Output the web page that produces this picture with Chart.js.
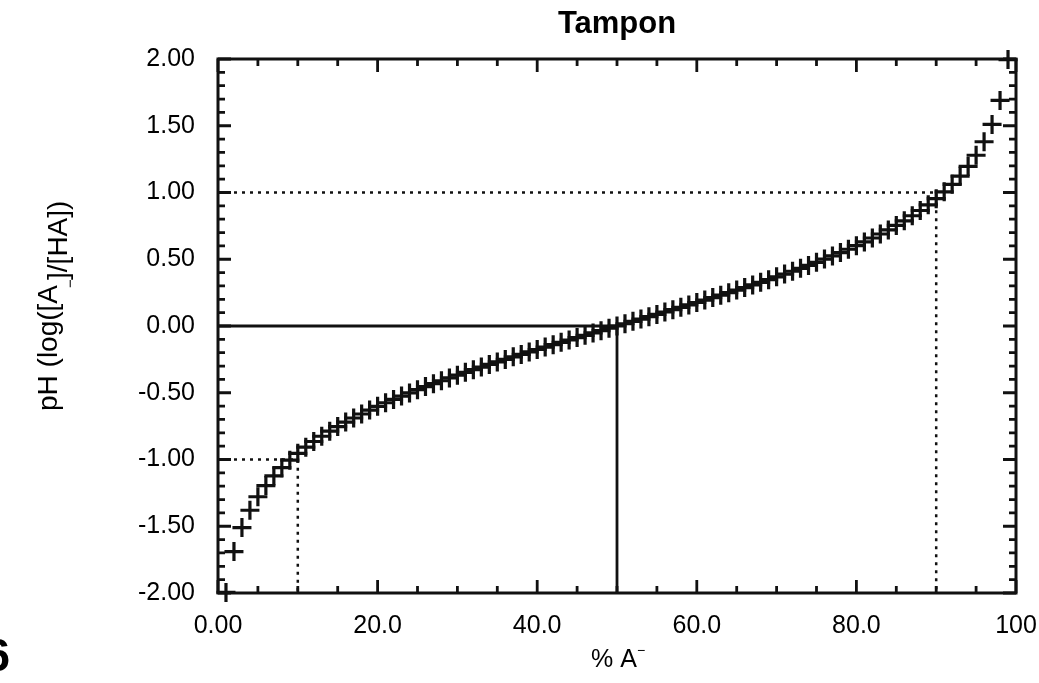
<!DOCTYPE html>
<html>
<head>
<meta charset="utf-8">
<script src="https://cdn.jsdelivr.net/npm/chart.js@4.4.1/dist/chart.umd.min.js"></script>
<style>
  html, body { margin: 0; padding: 0; background: #fff; }
  #wrap { width: 1039px; height: 683px; position: relative; }
</style>
</head>
<body>
<div id="wrap"><canvas id="main-chart"></canvas></div>
<script>
// % A- (x) and pH - pKa = log([A-]/[HA]) (y)
const PCT = [1,2,3,4,5,6,7,8,9,10,11,12,13,14,15,16,17,18,19,20,21,22,23,24,25,26,27,28,29,30,
  31,32,33,34,35,36,37,38,39,40,41,42,43,44,45,46,47,48,49,50,51,52,53,54,55,56,57,58,59,60,
  61,62,63,64,65,66,67,68,69,70,71,72,73,74,75,76,77,78,79,80,81,82,83,84,85,86,87,88,89,90,
  91,92,93,94,95,96,97,98,99];
const PH = [-1.996,-1.690,-1.510,-1.380,-1.279,-1.195,-1.123,-1.061,-1.005,-0.954,
  -0.908,-0.865,-0.826,-0.788,-0.753,-0.720,-0.689,-0.659,-0.630,-0.602,
  -0.575,-0.550,-0.525,-0.501,-0.477,-0.454,-0.432,-0.410,-0.389,-0.368,
  -0.347,-0.327,-0.308,-0.288,-0.269,-0.250,-0.231,-0.213,-0.194,-0.176,
  -0.158,-0.140,-0.122,-0.105,-0.087,-0.070,-0.052,-0.035,-0.017,0.000,
  0.017,0.035,0.052,0.070,0.087,0.105,0.122,0.140,0.158,0.176,
  0.194,0.213,0.231,0.250,0.269,0.288,0.308,0.327,0.347,0.368,
  0.389,0.410,0.432,0.454,0.477,0.501,0.525,0.550,0.575,0.602,
  0.630,0.659,0.689,0.720,0.753,0.788,0.826,0.865,0.908,0.954,
  1.005,1.061,1.123,1.195,1.279,1.380,1.510,1.690,1.996];

// guide lines
const MID_X = [0, 50, 50],   MID_Y = [0, 0, -2];
const HI_X  = [0, 90, 90],   HI_Y  = [1, 1, -2];
const LO_X  = [0, 10, 10],   LO_Y  = [-1, -1, -2];

const X_TICK_LABELS = ['0.00','20.0','40.0','60.0','80.0','100'];
const Y_TICK_LABELS = ['-2.00','-1.50','-1.00','-0.50','0.00','0.50','1.00','1.50','2.00'];

const FONT = '"Liberation Sans", Arial, sans-serif';
const INK = '#111';
const pts = (xs, ys) => xs.map((x, i) => ({ x, y: ys[i] }));

const framePlugin = {
  id: 'frame',
  afterDraw(c) {
    const ctx = c.ctx, a = c.chartArea, sx = c.scales.x, sy = c.scales.y;
    ctx.save();
    ctx.strokeStyle = INK;
    // ticks, pointing inward on all four sides
    ctx.lineWidth = 2.8;
    ctx.beginPath();
    for (let v = 0; v <= 100; v += 5) {
      const px = sx.getPixelForValue(v), len = v % 20 === 0 ? 13 : 7;
      ctx.moveTo(px, a.bottom); ctx.lineTo(px, a.bottom - len);
      ctx.moveTo(px, a.top);    ctx.lineTo(px, a.top + len);
    }
    for (let k = -20; k <= 20; k++) {
      const py = sy.getPixelForValue(k / 10), len = k % 5 === 0 ? 13 : 7;
      ctx.moveTo(a.left, py);  ctx.lineTo(a.left + len, py);
      ctx.moveTo(a.right, py); ctx.lineTo(a.right - len, py);
    }
    ctx.stroke();
    ctx.lineWidth = 3;
    ctx.strokeRect(a.left, a.top, a.right - a.left, a.bottom - a.top);

    ctx.fillStyle = '#000';
    // title
    ctx.font = `bold 31px ${FONT}`;
    ctx.textAlign = 'center'; ctx.textBaseline = 'alphabetic';
    ctx.fillText('Tampon', (a.left + a.right) / 2, 33);

    // x title: % A with raised minus
    ctx.font = `25px ${FONT}`;
    ctx.textAlign = 'left';
    const xt = '% A', xw = ctx.measureText(xt).width;
    const x0 = (a.left + a.right) / 2 - xw / 2 - 3;
    ctx.fillText(xt, x0, 667);
    ctx.font = `14px ${FONT}`;
    ctx.fillText('\u2212', x0 + xw, 655);

    // y title, with the part after A dropped like a subscript
    ctx.translate(62, 0);
    ctx.rotate(-Math.PI / 2);
    ctx.font = `28px ${FONT}`;
    const main = 'pH (log([A', sub = ']/[HA])';
    const mw = ctx.measureText(main).width;
    const start = -411;
    ctx.fillText(main, start, -5);
    ctx.font = `15px ${FONT}`;
    ctx.fillText('\u2212', start + mw - 3, 13);
    ctx.font = `28px ${FONT}`;
    ctx.fillText(sub, start + mw + 5, 5);
    ctx.setTransform(1, 0, 0, 1, 0, 0);

    // clipped page number at the left edge
    ctx.font = `bold 46px ${FONT}`;
    ctx.textAlign = 'right';
    ctx.fillText('6', 10, 671);
    ctx.restore();
  }
};

const lineSet = (data, dash, w) => ({
  data, showLine: true, borderColor: INK, borderWidth: w, borderDash: dash,
  pointRadius: 0, fill: false, tension: 0, clip: false
});

new Chart(document.getElementById('main-chart'), {
  type: 'scatter',
  data: {
    datasets: [
      {
        data: pts(PCT, PH),
        pointStyle: 'cross', pointRadius: 9.5, pointBorderWidth: 3.2,
        borderColor: INK, backgroundColor: INK, clip: false
      },
      lineSet(pts(MID_X, MID_Y), [], 2.8),
      lineSet(pts(HI_X, HI_Y), [3, 5], 2.5),
      lineSet(pts(LO_X, LO_Y), [3, 5], 2.5)
    ]
  },
  options: {
    responsive: true, maintainAspectRatio: false,
    animation: false,
    layout: { padding: { top: 59, right: 23, bottom: 0, left: 0 } },
    plugins: { legend: { display: false }, tooltip: { enabled: false } },
    scales: {
      x: {
        type: 'linear', min: 0, max: 100,
        afterFit: s => { s.height = 90; s.paddingLeft = 0; s.paddingRight = 0; },
        grid: { display: false }, border: { display: false },
        ticks: {
          stepSize: 20, padding: 10, color: '#000', maxRotation: 0,
          font: { family: FONT, size: 25 },
          callback: (v, i) => X_TICK_LABELS[i]
        }
      },
      y: {
        type: 'linear', min: -2, max: 2,
        afterFit: s => { s.width = 218; s.paddingTop = 0; s.paddingBottom = 0; },
        grid: { display: false }, border: { display: false },
        ticks: {
          stepSize: 0.5, padding: 15, color: '#000',
          font: { family: FONT, size: 25 },
          callback: (v, i) => Y_TICK_LABELS[i]
        }
      }
    }
  },
  plugins: [framePlugin]
});
</script>
</body>
</html>
